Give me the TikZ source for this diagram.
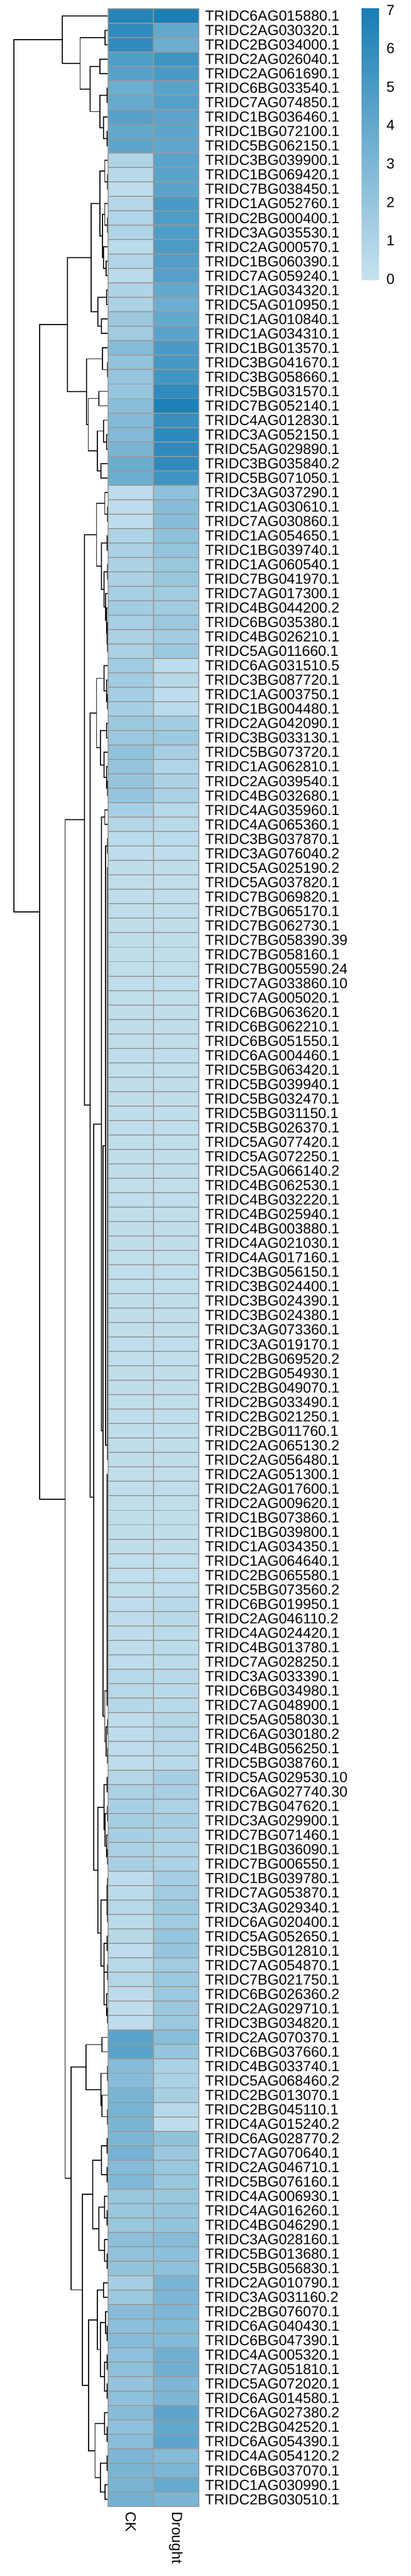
\documentclass[tikz,border=0pt]{standalone}
\usepackage{fontspec}
\setmainfont{Liberation Sans}
\usetikzlibrary{calc}

\definecolor{hmlow}{RGB}{200,226,238}
\definecolor{hmhigh}{RGB}{24,125,180}
\definecolor{hmgrid}{RGB}{153,153,153}

% join two branches at height #4 (px)
\newcommand\mrg[4]{%
  \path let \p1=($(#2)!0.5!(#3)$) in coordinate (mtmp) at ({#4*0.5pt},\y1);
  \draw[dendro] (#2) -| (mtmp) |- (#3);
  \coordinate (#1) at (mtmp);}

\begin{document}
\begin{tikzpicture}[x=0.5pt,y=-16.6667pt,
  cell/.style={draw=hmgrid,line width=1.15pt},
  dendro/.style={line width=1.1pt,black},
  rowlab/.style={anchor=base west,inner sep=0pt,font=\fontsize{16.8}{20}\selectfont},
  collab/.style={anchor=west,inner sep=0pt,rotate=-90,font=\fontsize{16.8}{20}\selectfont},
  leglab/.style={anchor=west,inner sep=0pt,font=\fontsize{16.8}{20}\selectfont}]
  \useasboundingbox (0,-0.6) rectangle (948,177.81);

  \foreach \k in {0,...,172} \coordinate (r\k) at (250,\k+0.5);

  % row dendrogram
  \mrg{m12}{r1}{r2}{243}
  \mrg{m34}{r3}{r4}{231}
  \mrg{m56}{r5}{r6}{247.5}
  \mrg{m89}{r8}{r9}{247.5}
  \mrg{m7}{r7}{m89}{239}
  \mrg{mE}{m56}{m7}{231}
  \mrg{mD}{m34}{mE}{208.5}
  \mrg{mB}{m12}{mD}{185}
  \mrg{mA}{r0}{mB}{144}
  \mrg{m1112}{r11}{r12}{249}
  \mrg{m10}{r10}{m1112}{242}
  \mrg{m1415}{r14}{r15}{248}
  \mrg{m13}{r13}{m1415}{242}
  \mrg{m1718}{r17}{r18}{245.5}
  \mrg{m16}{r16}{m1718}{239}
  \mrg{mM}{m13}{m16}{236.5}
  \mrg{mHa}{m10}{mM}{231}
  \mrg{m1920}{r19}{r20}{246.5}
  \mrg{m2122}{r21}{r22}{234}
  \mrg{mHb}{m1920}{m2122}{226}
  \mrg{mHc}{mHa}{mHb}{211}
  \mrg{m2425}{r24}{r25}{248}
  \mrg{m23}{r23}{m2425}{236.5}
  \mrg{m2627}{r26}{r27}{228}
  \mrg{m2930}{r29}{r30}{246.5}
  \mrg{m28}{r28}{m2930}{239}
  \mrg{m3132}{r31}{r32}{233.5}
  \mrg{mQ}{m28}{m3132}{224.5}
  \mrg{mP}{m2627}{mQ}{204}
  \mrg{mHd}{m23}{mP}{200}
  \mrg{mH}{mHc}{mHd}{156}
  \mrg{m3435}{r34}{r35}{249}
  \mrg{m33}{r33}{m3435}{242}
  \mrg{m3637}{r36}{r37}{247.5}
  \mrg{m3839}{r38}{r39}{248}
  \mrg{m4344}{r43}{r44}{248}
  \mrg{m42}{r42}{m4344}{247}
  \mrg{m41}{r41}{m42}{246}
  \mrg{m40}{r40}{m41}{244}
  \mrg{mR}{m3839}{m40}{240}
  \mrg{mS}{m3637}{mR}{234.5}
  \mrg{mJa}{m33}{mS}{223}
  \mrg{m4748}{r47}{r48}{248}
  \mrg{m46}{r46}{m4748}{246}
  \mrg{m45}{r45}{m46}{240}
  \mrg{m4950}{r49}{r50}{246.5}
  \mrg{m5354}{r53}{r54}{248.5}
  \mrg{m52}{r52}{m5354}{246.5}
  \mrg{m51}{r51}{m52}{240}
  \mrg{m49}{m4950}{m51}{232}
  \mrg{mJb}{m45}{m49}{223}
  \mrg{m5556}{r55}{r56}{242}
  \mrg{m5758}{r57}{r58}{248}
  \coordinate (cX) at (r59);
  \foreach \k in {60,...,100} {\mrg{cX}{cX}{r\k}{248.5}}
  \mrg{mW1}{m5758}{cX}{244}
  \coordinate (cY) at (r101);
  \foreach \k in {102,...,117} {\mrg{cY}{cY}{r\k}{247}}
  \mrg{m118}{r118}{r119}{248}
  \mrg{m120}{r120}{r121}{248}
  \mrg{m118b}{m118}{m120}{245}
  \mrg{mW2}{cY}{m118b}{242}
  \mrg{mW}{mW1}{mW2}{238}
  \mrg{mU}{m5556}{mW}{234.5}
  \mrg{m122}{r122}{r123}{247.5}
  \mrg{m124}{r124}{r125}{248}
  \mrg{m127}{r127}{r128}{248}
  \mrg{m126}{r126}{m127}{246}
  \mrg{m124b}{m124}{m126}{243}
  \mrg{m122b}{m122}{m124b}{240}
  \mrg{m129}{r129}{r130}{248}
  \mrg{m131}{r131}{r132}{248}
  \mrg{m129b}{m129}{m131}{247.5}
  \mrg{m133}{r133}{r134}{247}
  \mrg{m135}{r135}{r136}{248}
  \mrg{m138}{r138}{r139}{248.5}
  \mrg{m137}{r137}{m138}{246}
  \mrg{m135b}{m135}{m137}{240}
  \mrg{m133b}{m133}{m135b}{240}
  \mrg{mK}{m129b}{m133b}{233.5}
  \mrg{mK2}{m122b}{mK}{226}
  \mrg{mJc}{mU}{mK2}{216}
  \mrg{mJd}{mJb}{mJc}{208}
  \mrg{mJ}{mJa}{mJd}{195.5}
  \mrg{m140}{r140}{r141}{236}
  \mrg{m142}{r142}{r143}{248.5}
  \mrg{m145}{r145}{r146}{248.5}
  \mrg{m144}{r144}{m145}{236}
  \mrg{m142b}{m142}{m144}{233.5}
  \mrg{mIa}{m140}{m142b}{199}
  \mrg{m147}{r147}{r148}{247.5}
  \mrg{m149}{r149}{r150}{247.5}
  \mrg{m147b}{m147}{m149}{234.5}
  \mrg{m152}{r152}{r153}{247.5}
  \mrg{m151}{r151}{m152}{241}
  \mrg{m155}{r155}{r156}{247.5}
  \mrg{m154}{r154}{m155}{241}
  \mrg{m151b}{m151}{m154}{228.5}
  \mrg{mIb}{m147b}{m151b}{214.5}
  \mrg{m157}{r157}{r158}{239}
  \mrg{m160}{r160}{r161}{247.5}
  \mrg{m159}{r159}{m160}{244}
  \mrg{m162}{r162}{r163}{247.5}
  \mrg{m164}{r164}{r165}{247.5}
  \mrg{m162b}{m162}{m164}{241}
  \mrg{m159b}{m159}{m162b}{232}
  \mrg{m157b}{m157}{m159b}{224.5}
  \mrg{m167}{r167}{r168}{247.5}
  \mrg{m166}{r166}{m167}{241}
  \mrg{m169}{r169}{r170}{247.5}
  \mrg{m171}{r171}{r172}{242.5}
  \mrg{m169b}{m169}{m171}{232}
  \mrg{m166b}{m166}{m169b}{219.5}
  \mrg{mIc}{m157b}{m166b}{205}
  \mrg{mId}{mIb}{mIc}{190.5}
  \mrg{mIe}{mIa}{mId}{164.5}
  \mrg{mI}{mJ}{mIe}{150.5}
  \mrg{mG}{mH}{mI}{92}
  \mrg{mRoot}{mA}{mG}{32}

  % cells and row labels
  \foreach \gene/\ck/\dr [count=\k from 0] in {
    TRIDC6AG015880.1/6.5/6.9, TRIDC2AG030320.1/6.0/4.0, TRIDC2BG034000.1/6.0/3.6,
    TRIDC2AG026040.1/4.8/5.4, TRIDC2AG061690.1/4.5/5.0, TRIDC6BG033540.1/3.6/4.4,
    TRIDC7AG074850.1/3.9/4.6, TRIDC1BG036460.1/4.5/4.3, TRIDC1BG072100.1/4.0/4.2,
    TRIDC5BG062150.1/4.2/4.1, TRIDC3BG039900.1/1.0/4.4, TRIDC1BG069420.1/0.6/4.4,
    TRIDC7BG038450.1/0.4/4.4, TRIDC1AG052760.1/0.8/5.0, TRIDC2BG000400.1/0.9/4.8,
    TRIDC3AG035530.1/1.0/4.8, TRIDC2AG000570.1/0.5/4.9, TRIDC1BG060390.1/0.9/4.7,
    TRIDC7AG059240.1/0.5/4.6, TRIDC1AG034320.1/1.0/4.0, TRIDC5AG010950.1/1.1/3.6,
    TRIDC1AG010840.1/1.8/4.0, TRIDC1AG034310.1/1.6/4.4, TRIDC1BG013570.1/2.6/5.0,
    TRIDC3BG041670.1/2.1/5.1, TRIDC3BG058660.1/2.0/5.3, TRIDC5BG031570.1/2.0/6.0,
    TRIDC7BG052140.1/2.5/6.8, TRIDC4AG012830.1/2.8/5.8, TRIDC3AG052150.1/2.8/6.1,
    TRIDC5AG029890.1/3.1/6.1, TRIDC3BG035840.2/3.7/6.1, TRIDC5BG071050.1/3.7/5.4,
    TRIDC3AG037290.1/0.4/2.3, TRIDC1AG030610.1/0.4/2.6, TRIDC7AG030860.1/0.4/2.6,
    TRIDC1AG054650.1/1.0/2.3, TRIDC1BG039740.1/1.2/2.1, TRIDC1AG060540.1/1.1/1.9,
    TRIDC7BG041970.1/1.1/1.9, TRIDC7AG017300.1/1.3/1.6, TRIDC4BG044200.2/1.5/1.6,
    TRIDC6BG035380.1/1.3/1.8, TRIDC4BG026210.1/1.2/1.5, TRIDC5AG011660.1/1.2/1.8,
    TRIDC6AG031510.5/1.6/0.4, TRIDC3BG087720.1/1.5/0.7, TRIDC1AG003750.1/1.4/0.4,
    TRIDC1BG004480.1/1.3/0.5, TRIDC2AG042090.1/1.8/1.5, TRIDC3BG033130.1/1.8/1.7,
    TRIDC5BG073720.1/2.2/1.3, TRIDC1AG062810.1/2.0/0.9, TRIDC2AG039540.1/2.0/1.1,
    TRIDC4BG032680.1/2.0/1.2, TRIDC4AG035960.1/1.3/0.7, TRIDC4AG065360.1/0.8/0.6,
    TRIDC3BG037870.1/0.5/0.5, TRIDC3AG076040.2/0.4/0.4, TRIDC5AG025190.2/0.35/0.35,
    TRIDC5AG037820.1/0.35/0.35, TRIDC7BG069820.1/0.35/0.35, TRIDC7BG065170.1/0.35/0.35,
    TRIDC7BG062730.1/0.35/0.35, TRIDC7BG058390.39/0.35/0.35, TRIDC7BG058160.1/0.35/0.35,
    TRIDC7BG005590.24/0.35/0.35, TRIDC7AG033860.10/0.35/0.35, TRIDC7AG005020.1/0.35/0.35,
    TRIDC6BG063620.1/0.35/0.35, TRIDC6BG062210.1/0.35/0.35, TRIDC6BG051550.1/0.35/0.35,
    TRIDC6AG004460.1/0.35/0.35, TRIDC5BG063420.1/0.35/0.35, TRIDC5BG039940.1/0.35/0.35,
    TRIDC5BG032470.1/0.35/0.35, TRIDC5BG031150.1/0.35/0.35, TRIDC5BG026370.1/0.35/0.35,
    TRIDC5AG077420.1/0.35/0.35, TRIDC5AG072250.1/0.35/0.35, TRIDC5AG066140.2/0.35/0.35,
    TRIDC4BG062530.1/0.35/0.35, TRIDC4BG032220.1/0.35/0.35, TRIDC4BG025940.1/0.35/0.35,
    TRIDC4BG003880.1/0.35/0.35, TRIDC4AG021030.1/0.35/0.35, TRIDC4AG017160.1/0.35/0.35,
    TRIDC3BG056150.1/0.35/0.35, TRIDC3BG024400.1/0.35/0.35, TRIDC3BG024390.1/0.35/0.35,
    TRIDC3BG024380.1/0.35/0.35, TRIDC3AG073360.1/0.35/0.35, TRIDC3AG019170.1/0.35/0.35,
    TRIDC2BG069520.2/0.35/0.35, TRIDC2BG054930.1/0.35/0.35, TRIDC2BG049070.1/0.35/0.35,
    TRIDC2BG033490.1/0.35/0.35, TRIDC2BG021250.1/0.35/0.35, TRIDC2BG011760.1/0.35/0.35,
    TRIDC2AG065130.2/0.35/0.35, TRIDC2AG056480.1/0.35/0.35, TRIDC2AG051300.1/0.35/0.35,
    TRIDC2AG017600.1/0.35/0.35, TRIDC2AG009620.1/0.35/0.35, TRIDC1BG073860.1/0.35/0.35,
    TRIDC1BG039800.1/0.35/0.35, TRIDC1AG034350.1/0.35/0.35, TRIDC1AG064640.1/0.35/0.35,
    TRIDC2BG065580.1/0.35/0.35, TRIDC5BG073560.2/0.35/0.4, TRIDC6BG019950.1/0.4/0.6,
    TRIDC2AG046110.2/0.4/0.6, TRIDC4AG024420.1/0.4/0.5, TRIDC4BG013780.1/0.4/0.5,
    TRIDC7AG028250.1/0.4/0.5, TRIDC3AG033390.1/0.7/0.6, TRIDC6BG034980.1/0.7/0.6,
    TRIDC7AG048900.1/0.7/0.6, TRIDC5AG058030.1/0.4/0.8, TRIDC6AG030180.2/0.4/0.8,
    TRIDC4BG056250.1/0.4/0.7, TRIDC5BG038760.1/0.4/0.6, TRIDC5AG029530.10/0.8/1.4,
    TRIDC6AG027740.30/1.2/1.3, TRIDC7BG047620.1/1.3/1.1, TRIDC3AG029900.1/1.4/1.3,
    TRIDC7BG071460.1/1.3/1.1, TRIDC1BG036090.1/1.2/1.0, TRIDC7BG006550.1/1.3/1.1,
    TRIDC1BG039780.1/0.4/1.4, TRIDC7AG053870.1/0.5/1.6, TRIDC3AG029340.1/0.7/1.7,
    TRIDC6AG020400.1/0.5/1.6, TRIDC5AG052650.1/0.7/2.0, TRIDC5BG012810.1/0.4/2.0,
    TRIDC7AG054870.1/0.7/1.6, TRIDC7BG021750.1/0.8/1.8, TRIDC6BG026360.2/0.4/1.8,
    TRIDC2AG029710.1/0.4/1.8, TRIDC3BG034820.1/0.4/1.8, TRIDC2AG070370.1/4.4/2.5,
    TRIDC6BG037660.1/4.4/2.0, TRIDC4BG033740.1/2.6/1.2, TRIDC5AG068460.2/2.6/1.2,
    TRIDC2BG013070.1/3.2/1.3, TRIDC2BG045110.1/3.2/0.7, TRIDC4AG015240.2/3.1/0.4,
    TRIDC6AG028770.2/3.0/2.2, TRIDC7AG070640.1/3.3/1.8, TRIDC2AG046710.1/2.7/1.9,
    TRIDC5BG076160.1/2.9/1.9, TRIDC4AG006930.1/1.9/1.9, TRIDC4AG016260.1/1.9/2.0,
    TRIDC4BG046290.1/1.8/2.1, TRIDC3AG028160.1/2.4/2.7, TRIDC5BG013680.1/2.2/2.4,
    TRIDC5BG056830.1/2.1/2.3, TRIDC2AG010790.1/1.4/3.2, TRIDC3AG031160.2/1.8/3.0,
    TRIDC2BG076070.1/2.6/3.0, TRIDC6AG040430.1/2.4/2.8, TRIDC6BG047390.1/2.7/2.8,
    TRIDC4AG005320.1/2.3/3.5, TRIDC7AG051810.1/2.3/3.5, TRIDC5AG072020.1/2.1/3.0,
    TRIDC6AG014580.1/2.3/3.0, TRIDC6AG027380.2/2.6/4.2, TRIDC2BG042520.1/2.3/4.0,
    TRIDC6AG054390.1/2.5/4.2, TRIDC4AG054120.2/3.0/2.7, TRIDC6BG037070.1/3.1/3.0,
    TRIDC1AG030990.1/3.1/3.9, TRIDC2BG030510.1/3.4/3.1} {
    \pgfmathsetmacro\pck{\ck*100/7}
    \pgfmathsetmacro\pdr{\dr*100/7}
    \draw[cell,fill=hmhigh!\pck!hmlow] (250,\k) rectangle (354.5,\k+1);
    \draw[cell,fill=hmhigh!\pdr!hmlow] (354.5,\k) rectangle (459,\k+1);
    \node[rowlab] (lab\k) at (473.5,\k+0.85) {\gene};
  }

  \node[collab] (ck) at (302.25,173.35) {CK};
  \node[collab] (drought) at (406.75,173.35) {Drought};

  % colour key
  \shade[bottom color=hmlow,top color=hmhigh] (835,0) rectangle (875,18.81);
  \foreach \v in {0,...,7}
    \node[leglab] (leg\v) at (892,{0.09+2.6625*(7-\v)}) {\v};
\end{tikzpicture}
\end{document}
